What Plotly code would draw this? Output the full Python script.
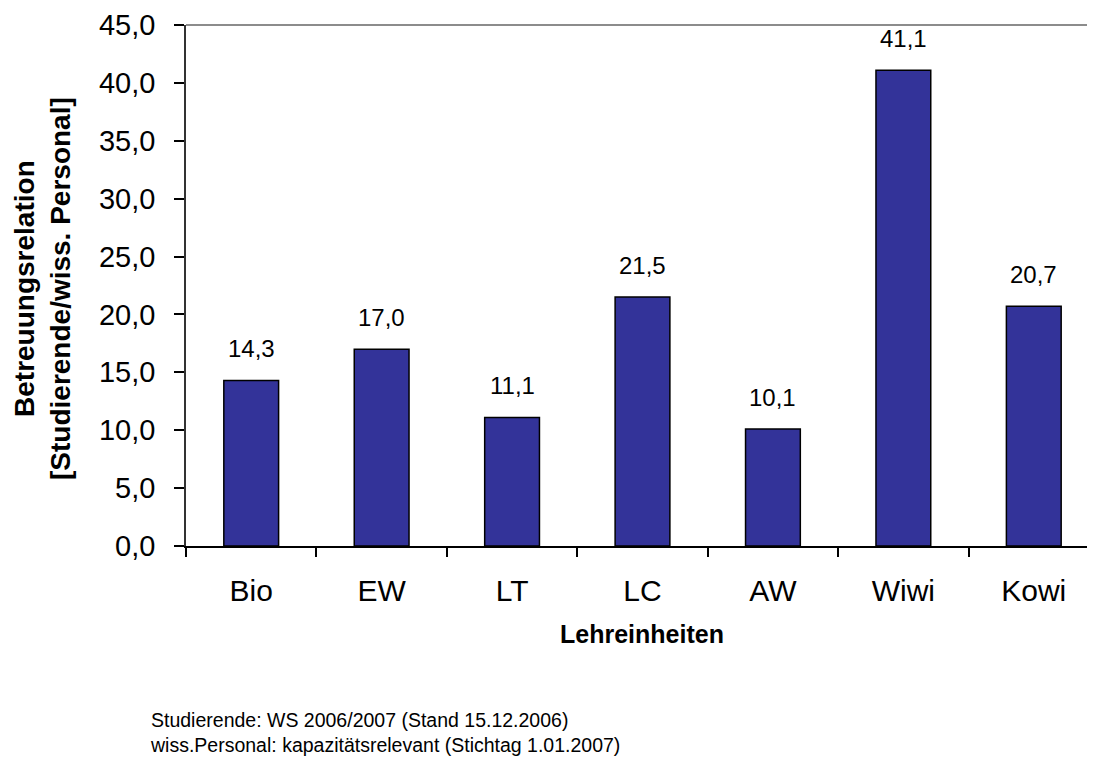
import plotly.graph_objects as go

categories = ["Bio", "EW", "LT", "LC", "AW", "Wiwi", "Kowi"]
values = [14.3, 17.0, 11.1, 21.5, 10.1, 41.1, 20.7]
y_ticks = [0, 5, 10, 15, 20, 25, 30, 35, 40, 45]

x_title = "Lehreinheiten"
y_title = "Betreuungsrelation<br>[Studierende/wiss. Personal]"
footnote = ("Studierende: WS 2006/2007 (Stand 15.12.2006)<br>"
            "wiss.Personal: kapazitätsrelevant (Stichtag 1.01.2007)")

FONT = "Liberation Sans, Arial, sans-serif"
# page has an 8px body margin; figure sized so the page matches 1095x765
W, H = 1087, 757
L, R, T, B = 178, 0, 17, 219
plot_w = W - L - R      # 909
plot_h = H - T - B      # 521
PL, PB = 186, 546       # plot left / bottom on page


def px(x):
    return (x - PL) / plot_w


def py(y):
    return (PB - y) / plot_h


fig = go.Figure()
fig.add_trace(go.Bar(
    x=categories, y=values, width=0.42,
    marker=dict(color="#333399", line=dict(color="#000000", width=1.5)),
    hoverinfo="x+y",
))

annotations = []
for c, v in zip(categories, values):
    annotations.append(dict(
        x=c, y=v, xref="x", yref="y", text=f"{v:.1f}".replace(".", ","),
        showarrow=False, yanchor="bottom", yshift=16,
        font=dict(family=FONT, size=24, color="#000000"),
    ))

annotations.append(dict(
    x=px(642), y=py(634), xref="paper", yref="paper",
    text=f"<b>{x_title}</b>", showarrow=False, xanchor="center", yanchor="middle",
    font=dict(family=FONT, size=25, color="#000000"),
))
annotations.append(dict(
    x=px(42), y=py(289), xref="paper", yref="paper",
    text=f"<b>{y_title}</b>", showarrow=False, textangle=-90,
    xanchor="center", yanchor="middle",
    font=dict(family=FONT, size=28, color="#000000"),
))
annotations.append(dict(
    x=px(148), y=py(707), xref="paper", yref="paper",
    text=footnote, showarrow=False, xanchor="left", yanchor="top", align="left",
    font=dict(family=FONT, size=19.5, color="#000000"),
))

fig.update_layout(
    width=W, height=H,
    margin=dict(l=L, r=R, t=T, b=B, pad=0),
    paper_bgcolor="white", plot_bgcolor="white",
    separators=",.",
    showlegend=False,
    annotations=annotations,
    shapes=[dict(type="line", xref="paper", yref="paper", x0=0, x1=1, y0=1, y1=1,
                 line=dict(color="#8c8c8c", width=2))],
    font=dict(family=FONT, color="#000000"),
)

fig.update_xaxes(
    type="category", range=[-0.5, 6.5 - 4 / 130.5],
    showline=True, linecolor="#000000", linewidth=1.5,
    ticks="outside", tickson="boundaries", ticklen=9, tickwidth=1.5, tickcolor="#000000",
    tickfont=dict(family=FONT, size=30, color="#000000"),
    showgrid=False, zeroline=False,
    ticklabelstandoff=17,
)
fig.update_yaxes(
    range=[0, 45], tickvals=y_ticks, tickformat=".1f",
    showline=True, linecolor="#333333", linewidth=1.5,
    ticks="outside", ticklen=10, tickwidth=1.5, tickcolor="#000000",
    tickfont=dict(family=FONT, size=29, color="#000000"),
    showgrid=False, zeroline=False,
    ticklabelstandoff=13,
)

fig.write_html("out.html")
